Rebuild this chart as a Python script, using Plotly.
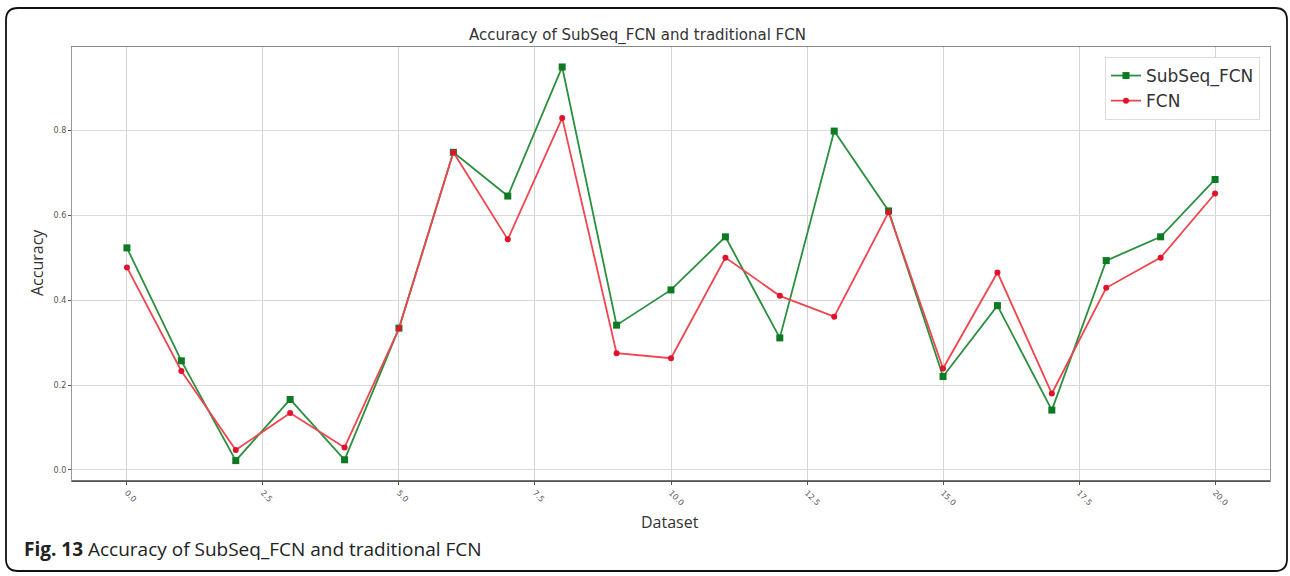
import plotly.graph_objects as go

# Dataset index and accuracy of each model
datasets = list(range(21))
subseq_fcn = [0.523, 0.257, 0.022, 0.166, 0.024, 0.334, 0.748, 0.645, 0.949, 0.341,
              0.424, 0.549, 0.311, 0.798, 0.610, 0.220, 0.387, 0.141, 0.493, 0.549, 0.684]
fcn = [0.477, 0.233, 0.047, 0.134, 0.053, 0.333, 0.748, 0.543, 0.829, 0.275,
       0.263, 0.500, 0.410, 0.361, 0.607, 0.239, 0.465, 0.180, 0.429, 0.500, 0.651]

x_ticks = [0, 2.5, 5, 7.5, 10, 12.5, 15, 17.5, 20]
x_tick_labels = ["0.0", "2.5", "5.0", "7.5", "10.0", "12.5", "15.0", "17.5", "20.0"]
y_ticks = [0.0, 0.2, 0.4, 0.6, 0.8]
y_tick_labels = ["0.0", "0.2", "0.4", "0.6", "0.8"]

W, H = 1290, 576
L, R, T, B = 72, 1270, 47, 481


def px(x):
    return (x - L) / (R - L)


def py(y):
    return (B - y) / (B - T)


fig = go.Figure()
fig.add_trace(go.Scatter(
    x=datasets, y=subseq_fcn, name="SubSeq_FCN", mode="lines+markers",
    line=dict(color="#2a8f3e", width=1.8),
    marker=dict(symbol="square", size=7, color="#0b7a22"),
))
fig.add_trace(go.Scatter(
    x=datasets, y=fcn, name="FCN", mode="lines+markers",
    line=dict(color="#f0444e", width=1.8),
    marker=dict(symbol="circle", size=6, color="#e3122c"),
))

# rounded outer frame around the figure and its caption
x0, x1, y0, y1, r = 6, 1287, 8, 571, 12
rx, ry = r / (R - L), r / (B - T)
X0, X1, Y0, Y1 = px(x0), px(x1), py(y0), py(y1)
frame_path = (
    f"M {X0 + rx},{Y0} L {X1 - rx},{Y0} Q {X1},{Y0} {X1},{Y0 - ry} "
    f"L {X1},{Y1 + ry} Q {X1},{Y1} {X1 - rx},{Y1} "
    f"L {X0 + rx},{Y1} Q {X0},{Y1} {X0},{Y1 + ry} "
    f"L {X0},{Y0 - ry} Q {X0},{Y0} {X0 + rx},{Y0} Z"
)
fig.add_shape(type="path", path=frame_path, xref="paper", yref="paper",
              line=dict(color="#111", width=1.8), layer="above")
# darker bottom spine
fig.add_shape(type="line", xref="paper", yref="paper", x0=0, x1=1, y0=0, y1=0,
              line=dict(color="#444", width=1.6), layer="above")

tick_font = dict(family="DejaVu Sans", size=8, color="#555")

fig.update_layout(
    width=W, height=H,
    margin=dict(l=L, r=W - R, t=T, b=H - B),
    paper_bgcolor="white", plot_bgcolor="white",
    title=dict(text="Accuracy of SubSeq_FCN and traditional FCN",
               x=px(664), xanchor="center", y=1 - 35 / H, yanchor="middle",
               font=dict(family="DejaVu Sans", size=15, color="#333")),
    xaxis=dict(range=[-1.01, 21.01], tickvals=x_ticks, ticktext=x_tick_labels,
               tickangle=45, tickfont=tick_font, showgrid=True, gridcolor="#d4d4d4",
               gridwidth=1, zeroline=False, showline=True, linecolor="#888",
               linewidth=1.2, mirror=True, ticks="outside", ticklen=3,
               tickcolor="#555"),
    yaxis=dict(range=[-0.026, 0.996], tickvals=y_ticks, ticktext=y_tick_labels,
               tickfont=tick_font, showgrid=True, gridcolor="#d9d9d9", gridwidth=1,
               zeroline=False, showline=True, linecolor="#999", linewidth=1.2,
               mirror=True, ticks="outside", ticklen=3, tickcolor="#555"),
    legend=dict(x=px(1260), y=py(57), xanchor="right", yanchor="top",
                bgcolor="white", bordercolor="#dddddd", borderwidth=1,
                font=dict(family="DejaVu Sans", size=17, color="#333")),
    showlegend=True,
)

fig.add_annotation(text="Accuracy", textangle=-90, xref="paper", yref="paper",
                   x=px(37), y=py(263), xanchor="center", yanchor="middle",
                   showarrow=False, font=dict(family="Open Sans", size=16, color="#333"))
fig.add_annotation(text="Dataset", xref="paper", yref="paper",
                   x=px(670), y=py(522), xanchor="center", yanchor="middle",
                   showarrow=False, font=dict(family="Open Sans", size=16, color="#333"))
fig.add_annotation(text="<b>Fig. 13</b> Accuracy of SubSeq_FCN and traditional FCN",
                   xref="paper", yref="paper", x=px(22), y=py(549),
                   xanchor="left", yanchor="middle", showarrow=False,
                   font=dict(family="Open Sans", size=19, color="#222"))

fig.write_html("out.html")
